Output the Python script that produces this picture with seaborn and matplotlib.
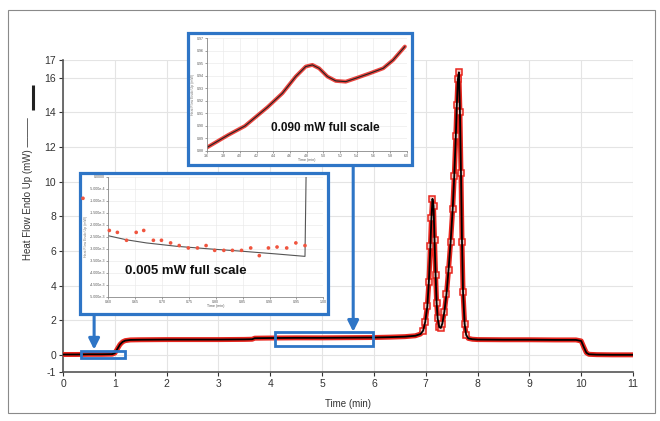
import numpy as np
import pandas as pd
import matplotlib
matplotlib.use("Agg")
import matplotlib.pyplot as plt
from matplotlib.patches import Rectangle
from matplotlib.lines import Line2D
import seaborn as sns

sns.set_theme(style="whitegrid")
plt.rcParams['font.family'] = ['Liberation Sans', 'DejaVu Sans']
plt.rcParams['axes.unicode_minus'] = False

# main DSC trace
time_min = [0.0, 0.25, 0.5, 0.75, 0.95, 1.0, 1.05, 1.1, 1.15, 1.2, 1.3, 1.5, 2.0, 2.5, 3.0,
            3.5, 3.65, 3.7, 4.0, 4.5, 5.0, 5.5, 6.0, 6.3, 6.6, 6.8, 6.9, 6.95, 6.99, 7.03,
            7.06, 7.09, 7.11, 7.13, 7.15, 7.17, 7.19, 7.21, 7.23, 7.26, 7.29, 7.32, 7.36,
            7.40, 7.44, 7.48, 7.52, 7.55, 7.58, 7.60, 7.62, 7.64, 7.66, 7.68, 7.70, 7.72,
            7.75, 7.78, 7.82, 7.9, 8.0, 8.5, 9.0, 9.5, 9.9, 10.0, 10.05, 10.1, 10.15, 10.3,
            10.6, 11.0]
heat_flow = [0.02, 0.02, 0.03, 0.03, 0.04, 0.1, 0.35, 0.6, 0.75, 0.82, 0.86, 0.87, 0.88, 0.88,
             0.88, 0.89, 0.9, 0.96, 0.97, 0.98, 0.98, 0.99, 1.0, 1.02, 1.05, 1.1, 1.2, 1.4,
             1.9, 2.8, 4.2, 6.3, 7.9, 9.0, 8.6, 6.6, 4.6, 3.0, 2.1, 1.6, 1.55, 1.8, 2.5, 3.5,
             4.9, 6.5, 8.4, 10.3, 12.6, 14.4, 15.9, 16.3, 14.0, 10.5, 6.5, 3.6, 1.8, 1.15,
             0.95, 0.9, 0.88, 0.87, 0.87, 0.86, 0.86, 0.8, 0.45, 0.12, 0.03, 0.01, 0.0, 0.0]

# upper inset, 0.090 mW full scale
ins1_time = [3.6, 3.86, 4.06, 4.33, 4.51, 4.67, 4.79, 4.87, 4.95, 5.05, 5.15, 5.27, 5.39,
             5.56, 5.72, 5.84, 5.98]
ins1_flow = [0.8824, 0.8926, 0.8998, 0.9148, 0.926, 0.9394, 0.9474, 0.9487, 0.946, 0.9394,
             0.9359, 0.9353, 0.938, 0.942, 0.946, 0.9527, 0.9634]
ins1_xticks = [3.6, 3.8, 4.0, 4.2, 4.4, 4.6, 4.8, 5.0, 5.2, 5.4, 5.6, 5.8, 6.0]
ins1_yticks = [0.88, 0.89, 0.90, 0.91, 0.92, 0.93, 0.94, 0.95, 0.96, 0.97]

# lower inset, 0.005 mW full scale
ins2_line_time = [0.60, 0.634, 0.671, 0.727, 0.789, 0.851, 0.913, 0.966, 0.968]
ins2_line_flow = [-2.46e-3, -2.63e-3, -2.76e-3, -2.90e-3, -3.01e-3, -3.11e-3, -3.22e-3,
                  -3.32e-3, 0.0]
ins2_dot_time = [0.553, 0.602, 0.617, 0.634, 0.652, 0.666, 0.684, 0.699, 0.716, 0.732,
                 0.749, 0.766, 0.782, 0.798, 0.815, 0.831, 0.848, 0.865, 0.881, 0.898,
                 0.914, 0.932, 0.949, 0.966]
ins2_dot_flow = [-0.90e-3, -2.24e-3, -2.32e-3, -2.65e-3, -2.32e-3, -2.24e-3, -2.65e-3,
                 -2.65e-3, -2.76e-3, -2.87e-3, -2.97e-3, -2.97e-3, -2.87e-3, -3.07e-3,
                 -3.07e-3, -3.07e-3, -3.07e-3, -2.97e-3, -3.29e-3, -2.97e-3, -2.93e-3,
                 -2.97e-3, -2.76e-3, -2.87e-3]
ins2_xticks = [0.60, 0.65, 0.70, 0.75, 0.80, 0.85, 0.90, 0.95, 1.00]
ins2_yticks = [0.0, -5e-4, -1e-3, -1.5e-3, -2e-3, -2.5e-3, -3e-3, -3.5e-3, -4e-3, -4.5e-3, -5e-3]
ins2_ylabels = ["0.0000", "-5.000e-4", "-1.000e-3", "-1.500e-3", "-2.000e-3", "-2.500e-3",
                "-3.000e-3", "-3.500e-3", "-4.000e-3", "-4.500e-3", "-5.000e-3"]

df_main = pd.DataFrame({'time': time_min, 'flow': heat_flow})
df_ins1 = pd.DataFrame({'time': ins1_time, 'flow': ins1_flow})
df_ins2 = pd.DataFrame({'time': ins2_line_time, 'flow': ins2_line_flow})
df_dots = pd.DataFrame({'time': ins2_dot_time, 'flow': ins2_dot_flow})

# squares only show where the trace is steep (the melting peaks)
peak_idx = [i for i, t in enumerate(time_min) if 6.93 <= t <= 7.80]

RED = '#E8261E'
BLUE = '#2E75C6'
GRID = '#E4E4E4'

fig = plt.figure(figsize=(6.6, 4.21), dpi=100)
fig.patch.set_facecolor('white')

# main axes
ax = fig.add_axes([0.0955, 0.116, 0.8636, 0.741])
ax.set_facecolor('white')
sns.lineplot(data=df_main, x='time', y='flow', sort=False, estimator=None, color=RED,
             lw=3.6, marker='s', markevery=peak_idx, markersize=4.6, markerfacecolor='#F7C6C0',
             markeredgecolor=RED, markeredgewidth=1.1, ax=ax, zorder=3)
sns.lineplot(data=df_main, x='time', y='flow', sort=False, estimator=None, color='black',
             lw=1.3, ax=ax, zorder=4)
ax.set_xlim(0, 11)
ax.set_ylim(-1, 17)
ax.set_xticks(range(0, 12))
ax.set_yticks([-1, 0, 2, 4, 6, 8, 10, 12, 14, 16, 17])
ax.grid(True, color=GRID, lw=0.8)
for s in ['top', 'right']:
    ax.spines[s].set_visible(False)
for s in ['left', 'bottom']:
    ax.spines[s].set_color('#555555')
    ax.spines[s].set_linewidth(1.2)
ax.tick_params(axis='both', labelsize=7.5, colors='#333333', length=3, width=0.8,
               direction='out', pad=2, left=True, bottom=True)
ax.set_xlabel("Time (min)", fontsize=7, color='#333333')
ax.xaxis.set_label_coords(0.5, -0.085)
ax.set_ylabel("Heat Flow Endo Up (mW) ———", fontsize=7, color='#333333')
ax.yaxis.set_label_coords(-0.053, 0.587)

# highlight boxes on the trace
ax.add_patch(Rectangle((0.35, -0.2), 0.85, 0.43, fill=False, ec=BLUE, lw=2, zorder=5))
ax.add_patch(Rectangle((4.09, 0.52), 1.9, 0.77, fill=False, ec=BLUE, lw=2, zorder=5))

# arrows from the insets
arrow = dict(arrowstyle='-|>', color=BLUE, lw=2.2, mutation_scale=16, shrinkA=0, shrinkB=0)
ax.annotate("", xy=(0.6, 0.3), xytext=(0.6, 2.4), arrowprops=arrow, zorder=6)
ax.annotate("", xy=(5.6, 1.33), xytext=(5.6, 11.0), arrowprops=arrow, zorder=6)

# thick legend bar on the y label
fig.add_artist(Line2D([0.05, 0.05], [0.739, 0.798], color='#222222', lw=2.2,
                      solid_capstyle='butt'))

# inset boxes
fig.add_artist(Rectangle((0.2853, 0.608), 0.3385, 0.3128, transform=fig.transFigure,
                         fc='white', ec=BLUE, lw=2.3, zorder=1))
fig.add_artist(Rectangle((0.1212, 0.2542), 0.3762, 0.3342, transform=fig.transFigure,
                         fc='white', ec=BLUE, lw=2.3, zorder=1))


def style_inset(a):
    a.set_facecolor('white')
    a.grid(True, color='#EBEBEB', lw=0.5)
    for s in ['top', 'right']:
        a.spines[s].set_visible(False)
    for s in ['left', 'bottom']:
        a.spines[s].set_color('#888888')
        a.spines[s].set_linewidth(0.6)
    a.tick_params(axis='both', labelsize=2.6, colors='#555555', length=1.2, width=0.4, pad=1,
                  left=True, bottom=True)
    a.set_xlabel("Time (min)", fontsize=2.6, color='#555555', labelpad=0.5)
    a.set_ylabel("Heat Flow Endo Up (mW)", fontsize=2.6, color='#777777', labelpad=1)


# upper inset
ax1 = fig.add_axes([0.313, 0.642, 0.303, 0.267], zorder=2)
sns.lineplot(data=df_ins1, x='time', y='flow', sort=False, estimator=None, color=RED, lw=2.8,
             alpha=0.85, ax=ax1)
sns.lineplot(data=df_ins1, x='time', y='flow', sort=False, estimator=None, color='#222222',
             lw=0.8, ax=ax1)
ax1.set_xlim(3.6, 6.0)
ax1.set_ylim(0.88, 0.97)
ax1.set_xticks(ins1_xticks)
ax1.set_xticklabels([f"{v:.1f}" for v in ins1_xticks])
ax1.set_yticks(ins1_yticks)
ax1.set_yticklabels([f"{v:.2f}" for v in ins1_yticks])
style_inset(ax1)
ax1.text(0.32, 0.2, "0.090 mW full scale", transform=ax1.transAxes, fontsize=8.5,
         fontweight='bold', color='#111111', ha='left', va='center')

# lower inset
ax2 = fig.add_axes([0.164, 0.2953, 0.3258, 0.285], zorder=2)
sns.lineplot(data=df_ins2, x='time', y='flow', sort=False, estimator=None, color='#555555',
             lw=0.8, ax=ax2)
sns.scatterplot(data=df_dots, x='time', y='flow', color='#F0553F', s=7, edgecolor='none',
                ax=ax2, clip_on=False, zorder=3)
ax2.set_xlim(0.60, 1.00)
ax2.set_ylim(-5e-3, 0)
ax2.set_xticks(ins2_xticks)
ax2.set_xticklabels([f"{v:.2f}" for v in ins2_xticks])
ax2.set_yticks(ins2_yticks)
ax2.set_yticklabels(ins2_ylabels)
style_inset(ax2)
ax2.text(0.08, 0.21, "0.005 mW full scale", transform=ax2.transAxes, fontsize=9.5,
         fontweight='bold', color='#111111', ha='left', va='center')

# outer frame
fig.add_artist(Rectangle((8 / 660, 1 - 413 / 421), 647 / 660, 403 / 421,
                         transform=fig.transFigure, fill=False, ec='#8A8A8A', lw=0.8))

fig.savefig("out.png", dpi=100)
